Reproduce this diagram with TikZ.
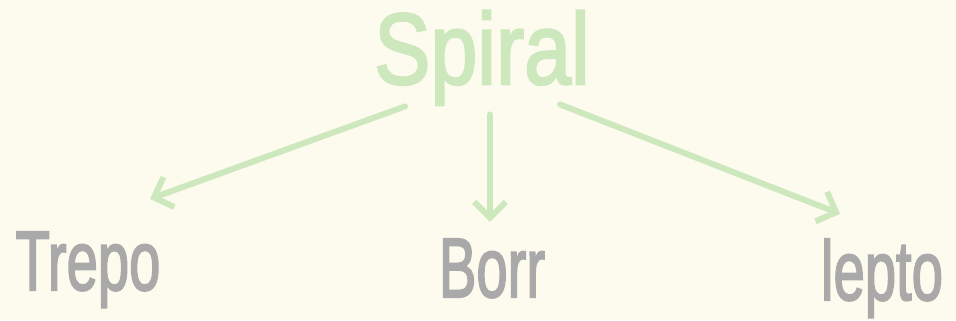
\documentclass[tikz,border=0pt]{standalone}
\usepackage{fontspec}
\setmainfont[FakeBold=2.5,AutoFakeBold=2.5]{Liberation Sans}
\usetikzlibrary{arrows.meta}

\definecolor{paper}{HTML}{FCFBEE}
\definecolor{leaf}{HTML}{CDE8BC}
\definecolor{pencil}{HTML}{A9A9A9}

\tikzset{
  head/.style={text=leaf, inner sep=0pt, anchor=base, transform shape, yscale=1.2,
    font=\fontsize{48}{48}\selectfont\bfseries},
  kind/.style={text=pencil, inner sep=0pt, anchor=base, transform shape, yscale=1.5,
    font=\fontsize{32}{32}\selectfont\bfseries},
  branch/.style={draw=leaf, line width=3.4pt, line cap=round, line join=round,
    -{Straight Barb[length=9pt, width=18pt, line width=3.4pt]}}
}

\begin{document}
\begin{tikzpicture}
  \fill[paper] (0,0) rectangle (19.12,6.4);
  \useasboundingbox (0,0) rectangle (19.12,6.4);

  \node[head] (spiral) at (9.64, 4.72) {Spiral};
  \node[kind] (trepo) at (1.76, 0.6) {Trepo};
  \node[kind] (borr) at (9.84, 0.46) {Borr};
  \node[kind] (lepto) at (17.64, 0.4) {lepto};

  % three branches down from the top word
  \draw[branch] ([xshift=-1.54cm, yshift=-0.02cm]spiral.south) -- ([xshift=1.24cm, yshift=0.65cm]trepo.north);
  \draw[branch] ([xshift=0.16cm, yshift=-0.18cm]spiral.south) -- ([xshift=-0.04cm, yshift=0.33cm]borr.north);
  \draw[branch] ([xshift=1.56cm, yshift=0.02cm]spiral.south) -- ([xshift=-0.84cm, yshift=0.49cm]lepto.north);
\end{tikzpicture}
\end{document}
